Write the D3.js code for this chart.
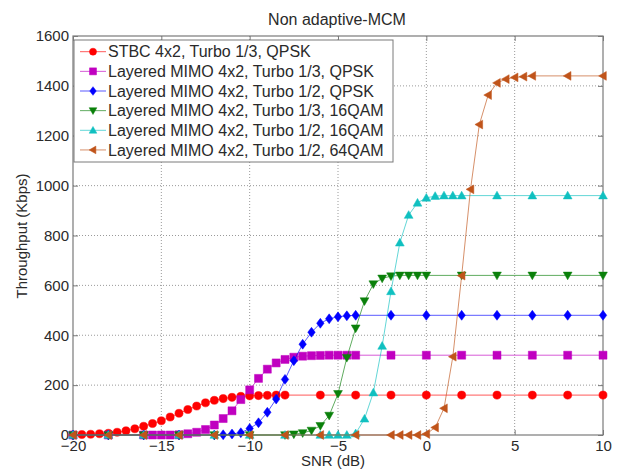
<!DOCTYPE html>
<html>
<head>
<meta charset="utf-8">
<script src="https://cdn.jsdelivr.net/npm/d3@7"></script>
<style>
body { margin: 0; background: #fff; }
svg { font-family: "Liberation Sans", Arial, sans-serif; }
</style>
</head>
<body>
<svg id="chart" width="619" height="470"></svg>
<script>
const xTicks = [-20, -15, -10, -5, 0, 5, 10];
const yTicks = [0, 200, 400, 600, 800, 1000, 1200, 1400, 1600];

const seriesNames = [
  "STBC 4x2, Turbo 1/3, QPSK",
  "Layered MIMO 4x2, Turbo 1/3, QPSK",
  "Layered MIMO 4x2, Turbo 1/2, QPSK",
  "Layered MIMO 4x2, Turbo 1/3, 16QAM",
  "Layered MIMO 4x2, Turbo 1/2, 16QAM",
  "Layered MIMO 4x2, Turbo 1/2, 64QAM"
];
const seriesColors = ["#ff0000", "#c000c0", "#0000ff", "#0a800a", "#10c0c0", "#c0541a"];
const seriesMarkers = ["circle", "square", "diamond", "triDown", "triUp", "triLeft"];

const snrStbc = [-20,-19.5,-19,-18.5,-18,-17.5,-17,-16.5,-16,-15.5,-15,-14.5,-14,-13.5,-13,-12.5,-12,-11.5,-11,-10.5,-10,-9.5,-9,-8.5,-8,-6,-4,-2,0,2,4,6,8,10];
const thrStbc = [0,2,3,5,7,11,17,25,35,46,57,72,87,102,116,129,139,146,151,155,157,158,159,160,160,160,160,160,160,160,160,160,160,160];

const snrL13Q = [-20,-18,-16,-15.5,-15,-14.5,-14,-13.5,-13,-12.5,-12,-11.5,-11,-10.5,-10,-9.5,-9,-8.5,-8,-7.5,-7,-6.5,-6,-5.5,-5,-4.5,-4,-2,0,2,4,6,8,10];
const thrL13Q = [0,0,0,0,0,0,1,5,11,22,40,66,97,142,181,227,264,289,303,312,316,318,319,320,320,320,320,320,320,320,320,320,320,320];

const snrL12Q = [-20,-18,-16,-14,-12,-11.5,-11,-10.5,-10,-9.5,-9,-8.5,-8,-7.5,-7,-6.5,-6,-5.5,-5,-4.5,-4,-2,0,2,4,6,8,10];
const thrL12Q = [0,0,0,0,0,1,4,9,26,49,91,144,223,298,364,412,448,466,474,478,480,480,480,480,480,480,480,480];

const snrL13_16 = [-20,-18,-16,-14,-12,-10,-8,-7.5,-7,-6.5,-6,-5.5,-5,-4.5,-4,-3.5,-3,-2.5,-2,-1.5,-1,-0.5,0,2,4,6,8,10];
const thrL13_16 = [0,0,0,0,0,0,0,3,8,18,37,78,165,310,428,537,605,628,637,640,640,640,640,640,640,640,640,640];

const snrL12_16 = [-20,-18,-16,-14,-12,-10,-8,-6,-5.5,-5,-4.5,-4,-3.5,-3,-2.5,-2,-1.5,-1,-0.5,0,0.5,1,1.5,2,4,6,8,10];
const thrL12_16 = [0,0,0,0,0,0,0,0,0,0,0,6,65,170,357,576,771,882,931,951,958,960,960,960,960,960,960,960];

const snrL12_64 = [-20,-18,-16,-14,-12,-10,-8,-6,-4,-2,-1.5,-1,-0.5,0,0.5,1,1.5,2,2.5,3,3.5,4,4.5,5,5.5,6,8,10];
const thrL12_64 = [0,0,0,0,0,0,0,0,0,0,0,0,0,4,30,107,314,639,985,1245,1363,1412,1427,1434,1437,1440,1440,1440];

const seriesX = [snrStbc, snrL13Q, snrL12Q, snrL13_16, snrL12_16, snrL12_64];
const seriesY = [thrStbc, thrL13Q, thrL12Q, thrL13_16, thrL12_16, thrL12_64];

const svg = d3.select("#chart");
const L = 73, R = 603, T = 36, B = 435;
const x = d3.scaleLinear().domain([-20, 10]).range([L, R]);
const y = d3.scaleLinear().domain([0, 1600]).range([B, T]);
const axisColor = "#7a7a7a";
const textColor = "#2a2a2a";

svg.append("rect").attr("x", 0).attr("y", 0).attr("width", 619).attr("height", 470).attr("fill", "#fff");

// grid
const grid = svg.append("g");
grid.selectAll(".gx").data(xTicks.slice(1, -1)).join("line")
  .attr("x1", d => x(d)).attr("x2", d => x(d)).attr("y1", T).attr("y2", B)
  .attr("stroke", "#9a9a9a").attr("stroke-width", 1).attr("stroke-dasharray", "1,2");
grid.selectAll(".gy").data(yTicks.slice(1, -1)).join("line")
  .attr("x1", L).attr("x2", R).attr("y1", d => y(d)).attr("y2", d => y(d))
  .attr("stroke", "#9a9a9a").attr("stroke-width", 1).attr("stroke-dasharray", "1,2");

// axes with inward ticks
const xAxisB = d3.axisBottom(x).tickValues(xTicks).tickSize(-5).tickPadding(9).tickFormat(d3.format("d"));
const yAxisL = d3.axisLeft(y).tickValues(yTicks).tickSize(-5).tickPadding(9).tickFormat(d3.format("d"));
const xAxisT = d3.axisTop(x).tickValues(xTicks).tickSize(-5).tickFormat("");
const yAxisR = d3.axisRight(y).tickValues(yTicks).tickSize(-5).tickFormat("");

function styleAxis(g) {
  g.select(".domain").remove();
  g.selectAll(".tick line").attr("stroke", axisColor);
  g.selectAll(".tick text").attr("fill", textColor).style("font-size", "15px");
}
svg.append("g").attr("transform", `translate(0,${B})`).call(xAxisB).call(styleAxis)
  .selectAll(".tick text").attr("dy", "0.71em").attr("y", 5);
svg.append("g").attr("transform", `translate(${L},0)`).call(yAxisL).call(styleAxis)
  .selectAll(".tick text").attr("x", -4);
svg.append("g").attr("transform", `translate(0,${T})`).call(xAxisT).call(styleAxis);
svg.append("g").attr("transform", `translate(${R},0)`).call(yAxisR).call(styleAxis);

svg.append("rect").attr("x", L).attr("y", T).attr("width", R - L).attr("height", B - T)
  .attr("fill", "none").attr("stroke", axisColor).attr("stroke-width", 1.2);

// marker shapes
function markerPath(type, s) {
  switch (type) {
    case "circle": return d3.symbol(d3.symbolCircle, s * s * 0.8)();
    case "square": return `M${-s/2},${-s/2}h${s}v${s}h${-s}Z`;
    case "diamond": { const h = s * 0.62; return `M0,${-h}L${h*0.75},0L0,${h}L${-h*0.75},0Z`; }
    case "triUp": { const h = s * 0.55; return `M0,${-h}L${h},${h*0.75}L${-h},${h*0.75}Z`; }
    case "triDown": { const h = s * 0.55; return `M0,${h}L${h},${-h*0.75}L${-h},${-h*0.75}Z`; }
    case "triLeft": { const h = s * 0.55; return `M${-h},0L${h*0.75},${-h}L${h*0.75},${h}Z`; }
  }
}

const line = d3.line().x(d => x(d[0])).y(d => y(d[1]));
const plot = svg.append("g");
seriesX.forEach((xs, i) => {
  const pts = xs.map((v, j) => [v, seriesY[i][j]]);
  const g = plot.append("g");
  g.append("path").datum(pts).attr("d", line).attr("fill", "none")
    .attr("stroke", seriesColors[i]).attr("stroke-width", 1).attr("stroke-opacity", 0.65);
  g.selectAll("path.m").data(pts).join("path").attr("class", "m")
    .attr("transform", d => `translate(${x(d[0])},${y(d[1])})`)
    .attr("d", markerPath(seriesMarkers[i], 8))
    .attr("fill", seriesColors[i]).attr("stroke", seriesColors[i]).attr("stroke-width", 0.5);
});

// title and labels
svg.append("text").attr("x", 337).attr("y", 25).attr("text-anchor", "middle")
  .attr("fill", textColor).style("font-size", "16px").text("Non adaptive-MCM");
svg.append("text").attr("x", 333).attr("y", 466).attr("text-anchor", "middle")
  .attr("fill", textColor).style("font-size", "15px").text("SNR (dB)");
svg.append("text").attr("transform", "translate(27,236) rotate(-90)").attr("text-anchor", "middle")
  .attr("fill", textColor).style("font-size", "15px").text("Throughput (Kbps)");

// legend
const lg = svg.append("g");
lg.append("rect").attr("x", 74).attr("y", 40).attr("width", 319).attr("height", 122)
  .attr("fill", "#fff").attr("stroke", axisColor).attr("stroke-width", 1);
seriesNames.forEach((name, i) => {
  const cy = 51.7 + i * 19.65;
  lg.append("line").attr("x1", 80).attr("x2", 106).attr("y1", cy).attr("y2", cy)
    .attr("stroke", seriesColors[i]).attr("stroke-width", 1).attr("stroke-opacity", 0.65);
  lg.append("path").attr("transform", `translate(93,${cy})`).attr("d", markerPath(seriesMarkers[i], 7))
    .attr("fill", seriesColors[i]).attr("stroke", seriesColors[i]).attr("stroke-width", 0.5);
  lg.append("text").attr("x", 108).attr("y", cy).attr("dy", "0.36em")
    .attr("fill", textColor).style("font-size", "16px").text(name);
});
</script>
</body>
</html>
